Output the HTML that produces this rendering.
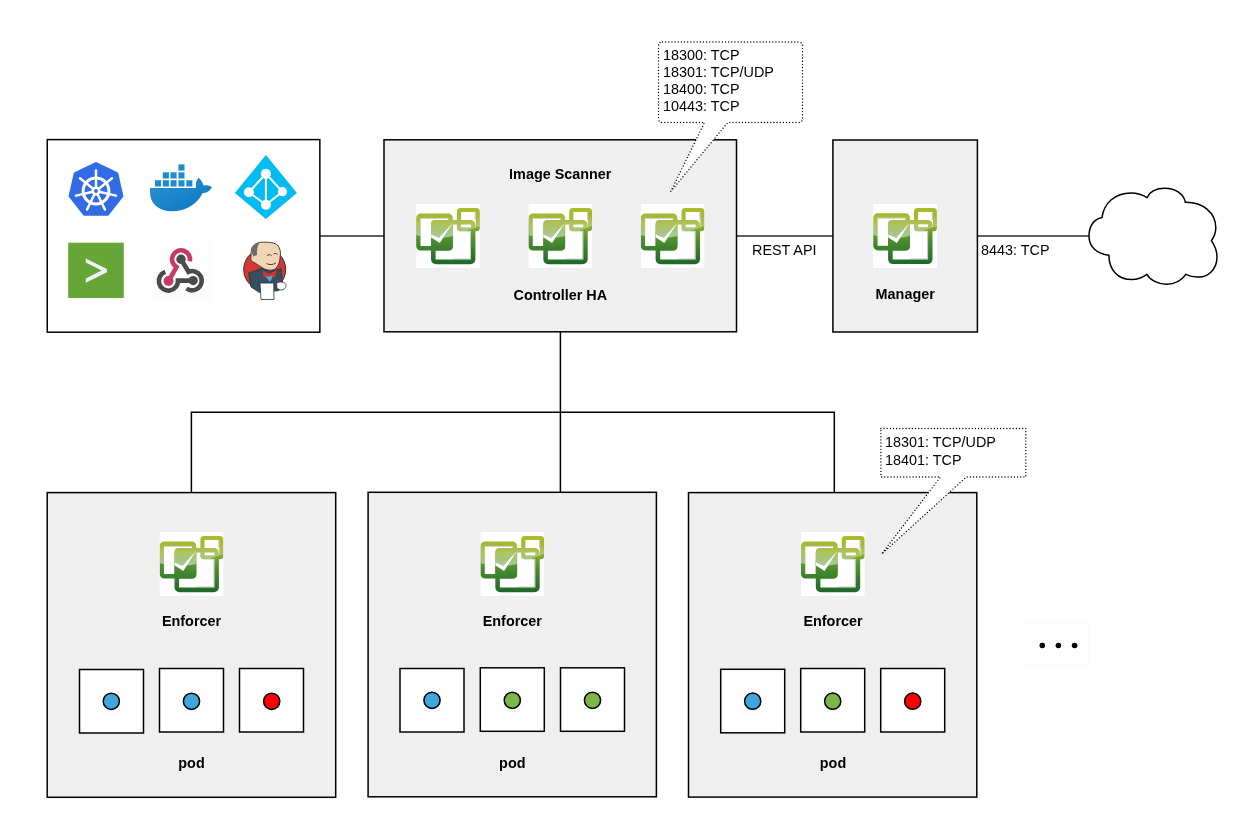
<!DOCTYPE html>
<html><head><meta charset="utf-8">
<style>
html,body{margin:0;padding:0;background:#fff;}
svg{display:block;will-change:transform;}
text{font-family:"Liberation Sans",sans-serif;}
</style></head><body>
<svg width="1243" height="836" viewBox="0 0 1243 836">
<defs>
  <linearGradient id="gv" gradientUnits="userSpaceOnUse" x1="0" y1="4" x2="0" y2="61">
    <stop offset="0" stop-color="#abbd2b"/>
    <stop offset="0.3" stop-color="#96b12e"/>
    <stop offset="0.5" stop-color="#559430"/>
    <stop offset="1" stop-color="#1b662b"/>
  </linearGradient>
  <linearGradient id="gloss" gradientUnits="userSpaceOnUse" x1="0" y1="10" x2="0" y2="35">
    <stop offset="0" stop-color="#fff" stop-opacity="0"/>
    <stop offset="1" stop-color="#fff" stop-opacity="0.55"/>
  </linearGradient>
  <mask id="nvmask" maskUnits="userSpaceOnUse" x="0" y="0" width="64" height="64">
    <g fill="#fff" fill-rule="evenodd">
      <path d="M4.7 9.4 H32.3 A4.5 4.5 0 0 1 36.8 13.9 V42.0 A4.5 4.5 0 0 1 32.3 46.5 H4.7 A4.5 4.5 0 0 1 0.2 42.0 V13.9 A4.5 4.5 0 0 1 4.7 9.4 ZM4.5 13.9 H32.3 V41.9 H4.5 Z"/><path d="M20 16 H54.4 A5 5 0 0 1 59.4 21 V55.2 A5 5 0 0 1 54.4 60.2 H20 A5 5 0 0 1 15 55.2 V21 A5 5 0 0 1 20 16 ZM19.6 20.4 H55 V55.6 H19.6 Z"/><path d="M44.4 4.1 H60.3 A3.5 3.5 0 0 1 63.8 7.6 V23.8 A3.5 3.5 0 0 1 60.3 27.3 H44.4 A3.5 3.5 0 0 1 40.9 23.8 V7.6 A3.5 3.5 0 0 1 44.4 4.1 ZM45 8.1 H59.8 V23.4 H45 Z"/><path d="M19 16 H32.8 A4 4 0 0 1 36.8 20 V42.5 A4 4 0 0 1 32.8 46.5 H19 A4 4 0 0 1 15 42.5 V20 A4 4 0 0 1 19 16 Z"/>
    </g>
  </mask>
  <symbol id="nv" viewBox="0 0 64 64">
    <rect x="0" y="0" width="64" height="64" fill="#fff"/>
    <g fill="url(#gv)" fill-rule="evenodd">
      <path d="M4.7 9.4 H32.3 A4.5 4.5 0 0 1 36.8 13.9 V42.0 A4.5 4.5 0 0 1 32.3 46.5 H4.7 A4.5 4.5 0 0 1 0.2 42.0 V13.9 A4.5 4.5 0 0 1 4.7 9.4 ZM4.5 13.9 H32.3 V41.9 H4.5 Z"/>
      <path d="M20 16 H54.4 A5 5 0 0 1 59.4 21 V55.2 A5 5 0 0 1 54.4 60.2 H20 A5 5 0 0 1 15 55.2 V21 A5 5 0 0 1 20 16 ZM19.6 20.4 H55 V55.6 H19.6 Z"/>
      <path d="M44.4 4.1 H60.3 A3.5 3.5 0 0 1 63.8 7.6 V23.8 A3.5 3.5 0 0 1 60.3 27.3 H44.4 A3.5 3.5 0 0 1 40.9 23.8 V7.6 A3.5 3.5 0 0 1 44.4 4.1 ZM45 8.1 H59.8 V23.4 H45 Z"/>
    </g>
    <g fill="#8a8a8a" opacity="0.45">
      <rect x="53.9" y="28" width="1.1" height="27.6"/>
      <rect x="37" y="54.5" width="18" height="1.1"/>
      <rect x="58.7" y="8.1" width="1.1" height="8"/>
      <rect x="4.5" y="13.9" width="27.8" height="0.9"/>
    </g>
    <path d="M19 16 H32.8 A4 4 0 0 1 36.8 20 V42.5 A4 4 0 0 1 32.8 46.5 H19 A4 4 0 0 1 15 42.5 V20 A4 4 0 0 1 19 16 Z" fill="url(#gv)"/>
    <path d="M0 0 H64 V22 C50 27 42 31 32 33 C20 35 8 33.5 0 31 Z" fill="url(#gloss)" mask="url(#nvmask)"/>
    <path d="M15.3 30.5 L15.3 33.5 L23.8 39 L36.5 19 L23 34 Z" fill="#fff"/>
  </symbol>
</defs>

<!-- connectors -->
<g stroke="#2a2a2a" stroke-width="1.3" fill="none">
  <line x1="320" y1="236" x2="384" y2="236"/>
  <line x1="736" y1="236" x2="833" y2="236"/>
  <line x1="977" y1="236" x2="1090" y2="236"/>
</g>
<g stroke="#000" stroke-width="1.5" fill="none">
  <path d="M560.4 332 V492.5 M191.4 492.5 V412.3 H834.3 V492.5"/>
</g>

<!-- left tools box -->
<rect x="47.25" y="139.6" width="272.6" height="192.6" fill="#fff" stroke="#000" stroke-width="1.5"/>

<!-- controller -->
<rect x="384" y="139.8" width="352.5" height="192" fill="#efefef" stroke="#000" stroke-width="1.5"/>
<text x="560.3" y="179" font-size="14.4" font-weight="bold" text-anchor="middle">Image Scanner</text>
<use href="#nv" x="416" y="204" width="64" height="64"/>
<use href="#nv" x="528.3" y="204" width="64" height="64"/>
<use href="#nv" x="640.6" y="204" width="64" height="64"/>
<text x="560.3" y="300" font-size="14.4" font-weight="bold" text-anchor="middle">Controller HA</text>

<!-- manager -->
<rect x="832.9" y="140" width="144.5" height="192" fill="#efefef" stroke="#000" stroke-width="1.5"/>
<use href="#nv" x="873.1" y="203.9" width="64" height="64"/>
<text x="905.2" y="299.1" font-size="14.4" font-weight="bold" text-anchor="middle">Manager</text>

<text x="752" y="254.7" font-size="14.4">REST API</text>
<text x="981" y="254.7" font-size="14.4">8443: TCP</text>

<!-- cloud -->
<path d="M1089 236 C1089 226 1094 219 1102 217.4 C1104 203 1115 193 1131 193 C1138 193 1143 195 1147 197.7 C1150 191 1157 188.3 1165 188.3 C1175 188.3 1184 194 1185.3 202.3 C1203 202 1216 213 1215.8 228 C1215.8 233 1214 237 1211.4 240.7 C1215 246 1217 251 1217 257 C1217 270 1207 278 1197.4 277 C1193 277 1189 276 1185.8 274.4 C1182 280 1175 284.2 1166.4 284.2 C1158 284.2 1150 280 1146.9 274.4 C1142 278 1138 279.6 1132 279.6 C1118 279.6 1109 270 1108.9 255.2 C1097 254 1089 247 1089 236 Z" fill="#fff" stroke="#000" stroke-width="1.5"/>

<!-- enforcer boxes -->
<g fill="#efefef" stroke="#000" stroke-width="1.5">
  <rect x="47.2" y="492.6" width="288.5" height="304.7"/>
  <rect x="368.1" y="492.3" width="288.3" height="304.5"/>
  <rect x="688.5" y="492.6" width="288.3" height="304.5"/>
</g>
<use href="#nv" x="159.5" y="532" width="64" height="64"/>
<use href="#nv" x="480.3" y="532" width="64" height="64"/>
<use href="#nv" x="800.8" y="532" width="64" height="64"/>
<g font-size="14.4" font-weight="bold" text-anchor="middle">
  <text x="191.5" y="626.2">Enforcer</text>
  <text x="512.3" y="626.2">Enforcer</text>
  <text x="833" y="626.2">Enforcer</text>
  <text x="191.5" y="768.2">pod</text>
  <text x="512.3" y="768.2">pod</text>
  <text x="833" y="768.2">pod</text>
</g>

<!-- pods -->
<g fill="#fff" stroke="#000" stroke-width="1.5">
  <rect x="79.5" y="669.5" width="64" height="63.5"/>
  <rect x="159.5" y="668.5" width="64" height="63.5"/>
  <rect x="239.5" y="668.5" width="64" height="63.5"/>
  <rect x="400" y="668.5" width="64" height="63.5"/>
  <rect x="480.3" y="667.8" width="64" height="63.5"/>
  <rect x="560.5" y="667.8" width="64" height="63.5"/>
  <rect x="720.7" y="669.3" width="64" height="63.5"/>
  <rect x="800.7" y="668.5" width="64" height="63.5"/>
  <rect x="880.7" y="668.5" width="64" height="63.5"/>
</g>
<g stroke="#000" stroke-width="1.5">
  <circle cx="111.3" cy="701.3" r="8.1" fill="#3fa7dd"/>
  <circle cx="191.5" cy="701.3" r="8.1" fill="#3fa7dd"/>
  <circle cx="271.7" cy="701.3" r="8.1" fill="#ff0000"/>
  <circle cx="432" cy="700.3" r="8.1" fill="#3fa7dd"/>
  <circle cx="512.3" cy="700.3" r="8.1" fill="#7ab648"/>
  <circle cx="592.5" cy="700.3" r="8.1" fill="#7ab648"/>
  <circle cx="752.7" cy="701.2" r="8.1" fill="#3fa7dd"/>
  <circle cx="832.7" cy="701.2" r="8.1" fill="#7ab648"/>
  <circle cx="912.7" cy="701.2" r="8.1" fill="#ff0000"/>
</g>

<!-- ellipsis -->
<rect x="1025" y="620.3" width="65" height="47.3" fill="#fdfdfd"/>
<g fill="#000">
  <circle cx="1042.3" cy="645.5" r="2.8"/>
  <circle cx="1058.4" cy="645.5" r="2.8"/>
  <circle cx="1074.6" cy="645.5" r="2.8"/>
</g>

<!-- callout 1 -->
<path d="M662.5 42 H798.5 Q802.5 42 802.5 46 V118.5 Q802.5 122.5 798.5 122.5 H727.8 L670.8 191.4 L704.5 122.5 H662.5 Q658.5 122.5 658.5 118.5 V46 Q658.5 42 662.5 42 Z" fill="#fff" stroke="#000" stroke-width="1.4" stroke-dasharray="0 3.15" stroke-linecap="round"/>
<g font-size="14.4" fill="#000">
  <text x="663" y="59.5">18300: TCP</text>
  <text x="663" y="76.8">18301: TCP/UDP</text>
  <text x="663" y="94.1">18400: TCP</text>
  <text x="663" y="111.4">10443: TCP</text>
</g>

<!-- callout 2 -->
<path d="M880.9 428.5 H1025.8 V477 H966.3 L881.7 554 L940.4 477 H880.9 Z" fill="#fff" stroke="#000" stroke-width="1.4" stroke-dasharray="0 3.15" stroke-linecap="round"/>
<g font-size="14.4" fill="#000">
  <text x="885" y="447.3">18301: TCP/UDP</text>
  <text x="885" y="464.9">18401: TCP</text>
</g>

<!-- tool icons -->
<g id="tools">
  <!-- kubernetes -->
  <polygon points="96.0,163.6 116.8,173.6 121.9,196.1 107.5,214.2 84.5,214.2 70.1,196.1 75.2,173.6" fill="#326ce5" stroke="#326ce5" stroke-width="3" stroke-linejoin="round"/>
  <g stroke="#fff" fill="none">
    <circle cx="96" cy="191" r="12.9" stroke-width="3"/>
    <g stroke-width="2.5" stroke-linecap="round">
      <line x1="96" y1="191" x2="96.0" y2="170.5"/>
      <line x1="96" y1="191" x2="112.0" y2="178.2"/>
      <line x1="96" y1="191" x2="116.0" y2="195.6"/>
      <line x1="96" y1="191" x2="104.9" y2="209.5"/>
      <line x1="96" y1="191" x2="87.1" y2="209.5"/>
      <line x1="96" y1="191" x2="76.0" y2="195.6"/>
      <line x1="96" y1="191" x2="80.0" y2="178.2"/>
    </g>
  </g>
  <circle cx="96" cy="191" r="4.6" fill="#fff"/>
  <circle cx="96" cy="191" r="1.9" fill="#326ce5"/>
  <!-- docker -->
  <defs><linearGradient id="dk" x1="0" y1="0" x2="1" y2="1"><stop offset="0" stop-color="#2a96d2"/><stop offset="1" stop-color="#0a74bd"/></linearGradient></defs>
  <path d="M150 188 H196 C195.3 184 196 180.5 198.6 177.8 C201 180 203 183 203.4 185.6 C206 185 209.5 185.5 211.8 187 C210.5 190.8 206.5 193 202.5 193.2 C197 204 186 211.3 172 211.3 C158 211.3 150 203 150 192 Z" fill="url(#dk)"/>
  <g fill="#1e8bcc">
    <rect x="155" y="180.2" width="6.1" height="6.3"/>
    <rect x="162.8" y="180.2" width="6.1" height="6.3"/>
    <rect x="170.5" y="180.2" width="6.1" height="6.3"/>
    <rect x="178.4" y="180.2" width="6.1" height="6.3"/>
    <rect x="186.3" y="180.2" width="6.1" height="6.3"/>
    <rect x="162.8" y="172.3" width="6.1" height="6.2"/>
    <rect x="170.5" y="172.3" width="6.1" height="6.2"/>
    <rect x="178.4" y="172.3" width="6.1" height="6.2"/>
    <rect x="178.4" y="164.4" width="6.1" height="6.2"/>
  </g>
  <!-- azure ad -->
  <polygon points="265.9,154.9 296.9,193.1 265.9,219.1 234.9,193.1" fill="#00bcf2"/>
  <g stroke="#fff" stroke-width="2" fill="none" stroke-linejoin="round">
    <polygon points="265.9,173.8 282.5,191.7 265.9,204.8 248.9,192.2"/>
    <line x1="265.9" y1="173.8" x2="265.9" y2="204.8"/>
  </g>
  <g fill="#fff">
    <circle cx="265.9" cy="173.8" r="5.1"/>
    <circle cx="248.9" cy="192.2" r="5"/>
    <circle cx="282.5" cy="191.7" r="4.6"/>
    <circle cx="265.9" cy="204.8" r="5"/>
  </g>
  <!-- green prompt -->
  <rect x="68.2" y="242.7" width="55.6" height="55.3" fill="#65a637"/>
  <polygon points="85.8,258.5 85.8,262.6 101.5,270.6 85.8,278.5 85.8,282.7 106.9,272.3 106.9,268.9" fill="#f1f1f1"/>
  <!-- webhook -->
  <rect x="150.5" y="239" width="61.5" height="62.5" fill="#fdfdfd"/>
  <g fill="none" stroke-width="4.6">
    <path d="M168.5 281 L176.5 267.1 A9 9 0 1 1 189.8 261.3" stroke="#c73a63"/>
    <path d="M181 259.3 L188.5 271.8 A9.6 9.6 0 1 1 186.5 288.5" stroke="#4a4a4a"/>
    <path d="M193.2 280.6 H178 A9.6 9.6 0 1 1 165.3 271.9" stroke="#4a4a4a"/>
  </g>
  <circle cx="181" cy="259.3" r="4.7" fill="#4a4a4a"/>
  <circle cx="168.5" cy="281" r="5" fill="#c73a63"/>
  <circle cx="193.2" cy="280.6" r="4.6" fill="#4a4a4a"/>
  <!-- jenkins -->
  <circle cx="264.7" cy="269.5" r="21" fill="#d33833" stroke="#2f2f2f" stroke-width="1"/>
  <path d="M248.6 273 L262 268.5 L270 272 L281 268.5 L282.5 284 L279 290.5 L259.5 292.5 L251 287 Z" fill="#335061" stroke="#2f2f2f" stroke-width="0.8"/>
  <path d="M251.8 247.9 C255 243 259 242 263.7 242.2 C270 242 275 243 277.5 245 C280 248 281 252 280.2 256 C280 260 279.5 262 278.7 264 C277 268 274.5 270 271.6 270.1 C267 270.5 264 269 261.5 267.3 C258 265 256 263.5 254 262.5 C251 261.5 250.5 259 251 256.5 C251 252 251.3 250 251.8 247.9 Z" fill="#f0d6b7" stroke="#2f2f2f" stroke-width="0.9"/>
  <path d="M251.8 248 C253 245 256 243 259.5 242.5 C257.5 246 256.5 250 257 255 L253.5 256.5 C251.5 253 251.5 250 251.8 248 Z" fill="#6d6b6d"/>
  <path d="M267 255.5 C268.5 254.5 270 254.5 271.5 255.5 M273.5 254 C275 253 276.5 253.5 277.5 254.5 M266.5 263.5 C269 265 273 265 276 263" fill="none" stroke="#2f2f2f" stroke-width="0.9"/>
  <path d="M263 271 L269 274 L276 270.5 L275.5 277 L269 275.5 L263.5 277.5 Z" fill="#e0322d"/>
  <path d="M265.5 276.5 L273 276 L270 282 Z" fill="#6aa6c8"/>
  <path d="M260 283 L273.7 283 L274 299.5 L261 299.5 Z" fill="#fff" stroke="#2f2f2f" stroke-width="0.8"/>
  <path d="M276.6 283 C280 281.5 284.5 281.5 285.8 284.5 C286.5 287.5 284.5 290 280.5 290 L277 288.5 Z" fill="#fff" stroke="#2f2f2f" stroke-width="0.8"/>
</g>
</svg>
</body></html>
